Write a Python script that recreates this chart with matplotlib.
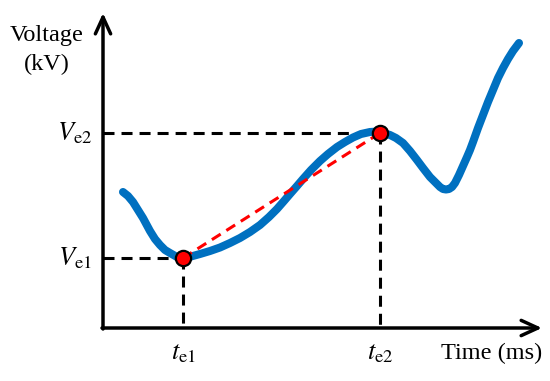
import matplotlib.pyplot as plt

plt.rcParams['mathtext.fontset'] = 'stix'

# waveform (time / voltage in arbitrary units)
curve_t = [20, 25, 30, 35, 40, 47, 52, 57, 62, 67, 74, 80, 88, 97, 107, 117,
           127, 137, 147, 157, 166, 174, 181, 187, 194, 200, 208, 217, 225, 234,
           242, 250, 258, 267, 272, 277, 282, 287, 293, 300, 307, 314, 320, 327,
           333, 337, 340, 343, 346, 349, 352, 356, 360, 364, 367, 370, 375, 380,
           385, 390, 395, 400, 405, 410, 413, 416]
curve_v = [136, 132, 126, 118, 110, 97, 89, 83, 78, 75, 71, 70, 71.5, 74, 77, 80.5,
           85, 90, 96, 103, 111, 119, 127, 134, 142, 149, 158, 167, 174, 181,
           186, 190.5, 194, 196, 196.3, 195, 194.5, 193, 190, 185, 177, 168, 160, 151,
           145, 141, 139, 138.5, 139, 141, 145, 153, 162, 171, 178, 186, 200, 213,
           226, 238, 250, 260, 269, 277, 281, 285]

# extreme points
te = [80, 277]
ve = [70, 195]
te_labels = [r'$t_{\mathrm{e1}}$', r'$t_{\mathrm{e2}}$']
ve_labels = [r'$V_{\mathrm{e1}}$', r'$V_{\mathrm{e2}}$']

fig = plt.figure(figsize=(5.5, 3.81), dpi=100)
ax = fig.add_axes([0, 0, 1, 1])
ax.set_xlim(-103, 447)
ax.set_ylim(-53, 328)
ax.axis('off')

# axes with arrow heads
arrow = dict(arrowstyle='->,head_length=1.2,head_width=0.55', lw=2.5,
             color='black', shrinkA=0, shrinkB=0)
ax.annotate('', xy=(439, 0), xytext=(-1, 0), arrowprops=arrow)
ax.annotate('', xy=(0, 315), xytext=(0, -1), arrowprops=arrow)

# guide lines
for t, v in zip(te, ve):
    ax.plot([0, t], [v, v], color='black', lw=2.2, dashes=(3.6, 2.3))
    ax.plot([t, t], [v, 0], color='black', lw=2.2, dashes=(3.6, 2.3))

# waveform and chord
ax.plot(curve_t, curve_v, color='#0070C0', lw=5.8,
        solid_capstyle='round', solid_joinstyle='round')
ax.plot(te, ve, color='red', lw=2.2, dashes=(3.4, 2.2))
ax.plot(te, ve, 'o', color='red', markersize=11, markeredgecolor='black',
        markeredgewidth=1.6, zorder=5)

# labels
for t, lab in zip(te, te_labels):
    ax.text(t, -24, lab, fontsize=19, ha='center', va='center')
for v, lab in zip(ve, ve_labels):
    ax.text(-11, v, lab, fontsize=19, ha='right', va='center')

ax.text(-56, 292, 'Voltage', fontsize=17.5, family='Liberation Serif',
        ha='center', va='center')
ax.text(-56, 264, '(kV)', fontsize=17.5, family='Liberation Serif',
        ha='center', va='center')
ax.text(389, -25, 'Time (ms)', fontsize=17.5, family='Liberation Serif',
        ha='center', va='center')

fig.savefig('out.png', dpi=100)
